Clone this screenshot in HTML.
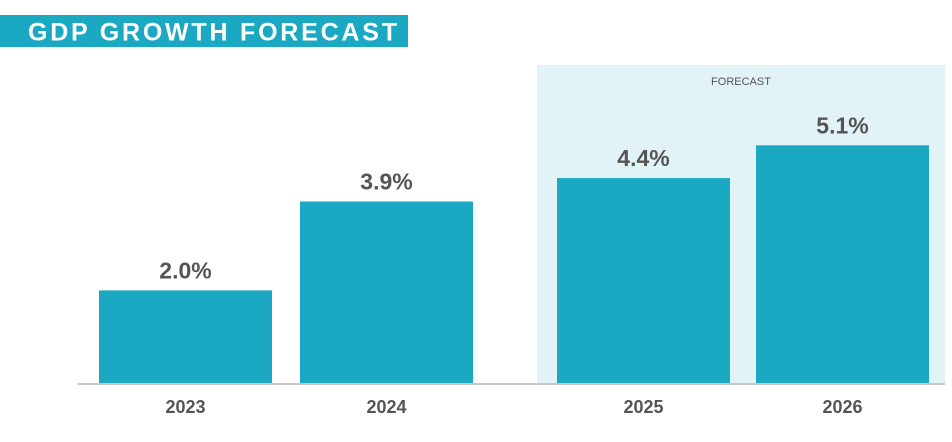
<!DOCTYPE html>
<html><head><meta charset="utf-8"><style>
body{margin:0;background:#fff;width:952px;height:437px;overflow:hidden;font-family:"Liberation Sans",sans-serif}
</style></head><body>
<svg width="952" height="437">
<rect x="0" y="15" width="408" height="32" fill="#1ba8c3"/>
<text x="28" y="40.5" fill="#fff" font-size="25" font-weight="bold" letter-spacing="3" textLength="372">GDP GROWTH FORECAST</text>
<rect x="537" y="65" width="408" height="319" fill="#e2f3f7"/>
<text x="741" y="85" text-anchor="middle" font-size="11" fill="#555">FORECAST</text>
<g id="bars"></g>
<line x1="78" y1="384" x2="945" y2="384" stroke="#c8c8c8" stroke-width="2"/>
</svg>
<script>
const categories = ["2023","2024","2025","2026"];
const values = [2.0, 3.9, 4.4, 5.1];
const valueLabels = ["2.0%","3.9%","4.4%","5.1%"];
const barLeft = [99,300,557,756];
const base = 384, perUnit = 46.8, bw = 173;
function y(v){return base - v*perUnit;}
const g = document.getElementById('bars');
const ns = 'http://www.w3.org/2000/svg';
categories.forEach((c,i)=>{
  const r = document.createElementNS(ns,'rect');
  r.setAttribute('x',barLeft[i]); r.setAttribute('y',y(values[i]));
  r.setAttribute('width',bw); r.setAttribute('height',base-y(values[i]));
  r.setAttribute('fill','#1ba8c3');
  
  
  g.appendChild(r);
  const t = document.createElementNS(ns,'text');
  t.setAttribute('x',barLeft[i]+bw/2); t.setAttribute('y',y(values[i])-12);
  t.setAttribute('text-anchor','middle'); t.setAttribute('font-size','23');
  t.setAttribute('font-weight','bold'); t.setAttribute('fill','#555');
  t.textContent = valueLabels[i];
  
  
  g.appendChild(t);
  const l = document.createElementNS(ns,'text');
  l.setAttribute('x',barLeft[i]+bw/2); l.setAttribute('y',413);
  l.setAttribute('text-anchor','middle'); l.setAttribute('font-size','18');
  l.setAttribute('font-weight','bold'); l.setAttribute('fill','#555');
  l.textContent = c;
  
  
  g.appendChild(l);
});
</script>
</body></html>
